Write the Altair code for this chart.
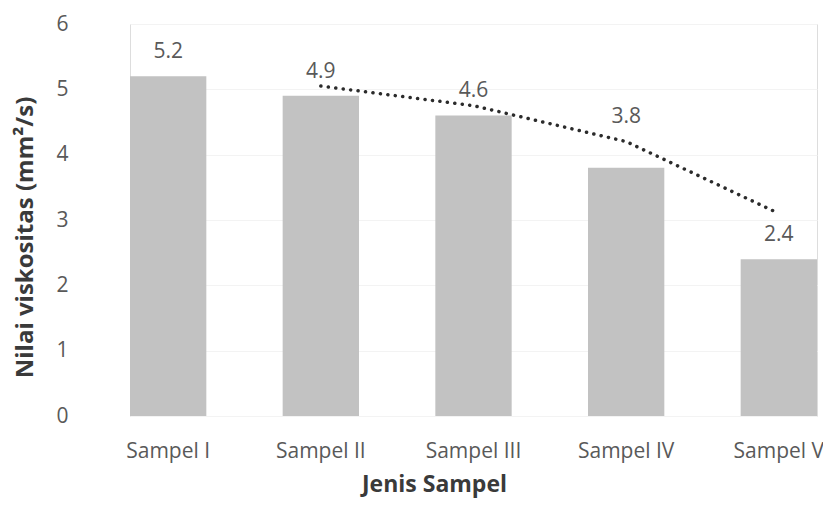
import altair as alt
import pandas as pd

categories = ["Sampel I", "Sampel II", "Sampel III", "Sampel IV", "Sampel V"]
values = [5.2, 4.9, 4.6, 3.8, 2.4]
trend_categories = ["Sampel II", "Sampel III", "Sampel IV", "Sampel V"]
trend_values = [5.05, 4.75, 4.2, 3.1]
y_ticks = [0, 1, 2, 3, 4, 5, 6]

bars_df = pd.DataFrame({"Jenis": categories, "Nilai": values})
trend_df = pd.DataFrame({"Jenis": trend_categories, "Nilai": trend_values})

FONT = "Open Sans"
LABEL_COLOR = "#595959"
TITLE_COLOR = "#3a3a3a"

x_enc = alt.X(
    "Jenis:N",
    sort=categories,
    scale=alt.Scale(paddingInner=0.5, paddingOuter=0),
    axis=alt.Axis(
        title="Jenis Sampel",
        labelAngle=0,
        labelFontSize=21,
        labelFont=FONT,
        labelColor=LABEL_COLOR,
        labelPadding=24,
        ticks=False,
        domain=False,
        grid=False,
        titleFont=FONT,
        titleFontSize=23,
        titleFontWeight="bold",
        titleColor=TITLE_COLOR,
        titleX=304,
        titleY=75,
        titleAlign="center",
        titleBaseline="alphabetic",
    ),
)

y_enc = alt.Y(
    "Nilai:Q",
    scale=alt.Scale(domain=[0, 6]),
    axis=alt.Axis(
        title="Nilai viskositas (mm²/s)",
        values=y_ticks,
        format="d",
        labelFontSize=21,
        labelFont=FONT,
        labelColor=LABEL_COLOR,
        labelPadding=62,
        ticks=False,
        domain=False,
        grid=True,
        gridColor="#f3f3f3",
        titleFont=FONT,
        titleFontSize=24,
        titleFontWeight="bold",
        titleColor=TITLE_COLOR,
        titleX=-105,
        titleY=213,
        titleAngle=270,
        titleAlign="center",
        titleBaseline="middle",
    ),
)

bars = alt.Chart(bars_df).mark_bar(color="#c2c2c2").encode(x=x_enc, y=y_enc)

text_common = dict(baseline="middle", fontSize=21, font=FONT, color=LABEL_COLOR)
text_enc = dict(
    x=alt.X("Jenis:N", sort=categories),
    y="Nilai:Q",
    text=alt.Text("Nilai:Q", format=".1f"),
)

texts = (
    alt.Chart(bars_df)
    .mark_text(dy=-24, **text_common)
    .encode(**text_enc)
    .transform_filter(alt.datum.Jenis != "Sampel IV")
)
text_iv = (
    alt.Chart(bars_df)
    .mark_text(dy=-51, **text_common)
    .encode(**text_enc)
    .transform_filter(alt.datum.Jenis == "Sampel IV")
)

trend = alt.Chart(trend_df).mark_line(
    color="#2b2b2b", strokeWidth=3.5, strokeDash=[0.1, 7.4], strokeCap="round"
).encode(x=alt.X("Jenis:N", sort=categories), y="Nilai:Q")

chart = (
    alt.layer(bars, trend, texts, text_iv)
    .properties(
        width=687,
        height=392,
        autosize=alt.AutoSizeParams(type="none"),
        padding={"left": 122, "top": 16, "right": 6, "bottom": 85},
    )
    .configure_view(strokeWidth=0)
    .configure(background="white")
)

chart.save("out.html", embed_options={"renderer": "svg", "actions": False})
